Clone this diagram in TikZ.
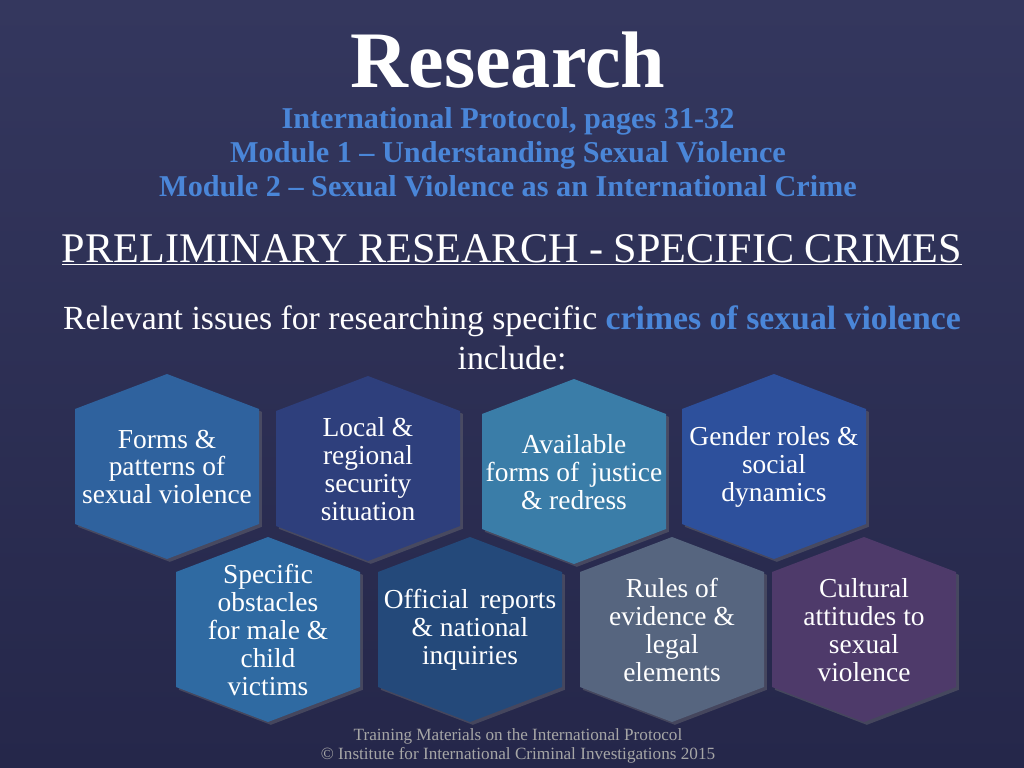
\documentclass[tikz,border=0pt]{standalone}
\usepackage{fontspec}
\setmainfont{Liberation Serif}
\usetikzlibrary{shadows}
\definecolor{bgdark}{HTML}{25274A}
\definecolor{bglight}{HTML}{34375E}
\definecolor{subblue}{HTML}{4A86D8}
\definecolor{hexA}{HTML}{2F629E}
\definecolor{hexB}{HTML}{2E3F7C}
\definecolor{hexC}{HTML}{3A7DA8}
\definecolor{hexD}{HTML}{2D509C}
\definecolor{hexE}{HTML}{2F6AA2}
\definecolor{hexF}{HTML}{24497A}
\definecolor{hexG}{HTML}{56657F}
\definecolor{hexH}{HTML}{4E3A6A}
\newcommand{\hexa}[5]{%
\fill[#4,drop shadow={opacity=0.35,shadow xshift=2pt,shadow yshift=-2pt}] (#2,#3) ++(0,92) -- ++(92,-35) -- ++(0,-115) -- ++(-92,-35) -- ++(-92,35) -- ++(0,115) -- cycle;
\node[hextext] (#1) at (#2,#3) {#5};}
\begin{document}
\begin{tikzpicture}[x=0.025cm,y=-0.025cm,
  hextext/.style={text=white,align=center,font=\fontsize{19.5}{19.8}\selectfont},
  subline/.style={text=subblue,font=\bfseries\fontsize{21.5}{24}\selectfont,align=center}]
\shade[top color=bglight,bottom color=bgdark] (0,0) rectangle (1024,768);
\useasboundingbox (0,0) rectangle (1024,768);
%title block
\node[text=white,font=\bfseries\fontsize{57}{60}\selectfont] (title) at (508,60) {Research};
\node[subline] (sub) at (508,152) {International Protocol, pages 31-32\\Module 1 -- Understanding Sexual Violence\\Module 2 -- Sexual Violence as an International Crime};
\node[text=white,font=\fontsize{30}{32}\selectfont] (head) at (512,250) {\underline{PRELIMINARY RESEARCH - SPECIFIC CRIMES}};
\node[text=white,align=center,font=\fontsize{24}{28}\selectfont] (intro) at (512,338) {Relevant issues for researching specific \textcolor{subblue}{\bfseries crimes of sexual violence}\\include:};
%top row of hexagons
\hexa{forms}{167}{467}{hexA}{Forms \&\\patterns of\\sexual violence}
\hexa{local}{368}{469}{hexB}{Local \&\\regional\\security\\situation}
\hexa{justice}{574}{472}{hexC}{Available\\forms of\, justice\\\& redress}
\hexa{gender}{774}{467}{hexD}{Gender roles \&\\social\\dynamics}
%bottom row of hexagons
\hexa{obstacles}{268}{630}{hexE}{Specific\\obstacles\\for male \&\\child\\victims}
\hexa{reports}{470}{630}{hexF}{Official\, reports\\\& national\\inquiries}
\hexa{rules}{672}{630}{hexG}{Rules of\\evidence \&\\legal\\elements}
\hexa{cultural}{864}{630}{hexH}{Cultural\\attitudes to\\sexual\\violence}
%footer
\node[text=gray!70,align=center,font=\fontsize{12.2}{13}\selectfont] (foot) at (518,746) {Training Materials on the International Protocol\\\textcopyright\ Institute for International Criminal Investigations 2015};
\end{tikzpicture}
\end{document}
